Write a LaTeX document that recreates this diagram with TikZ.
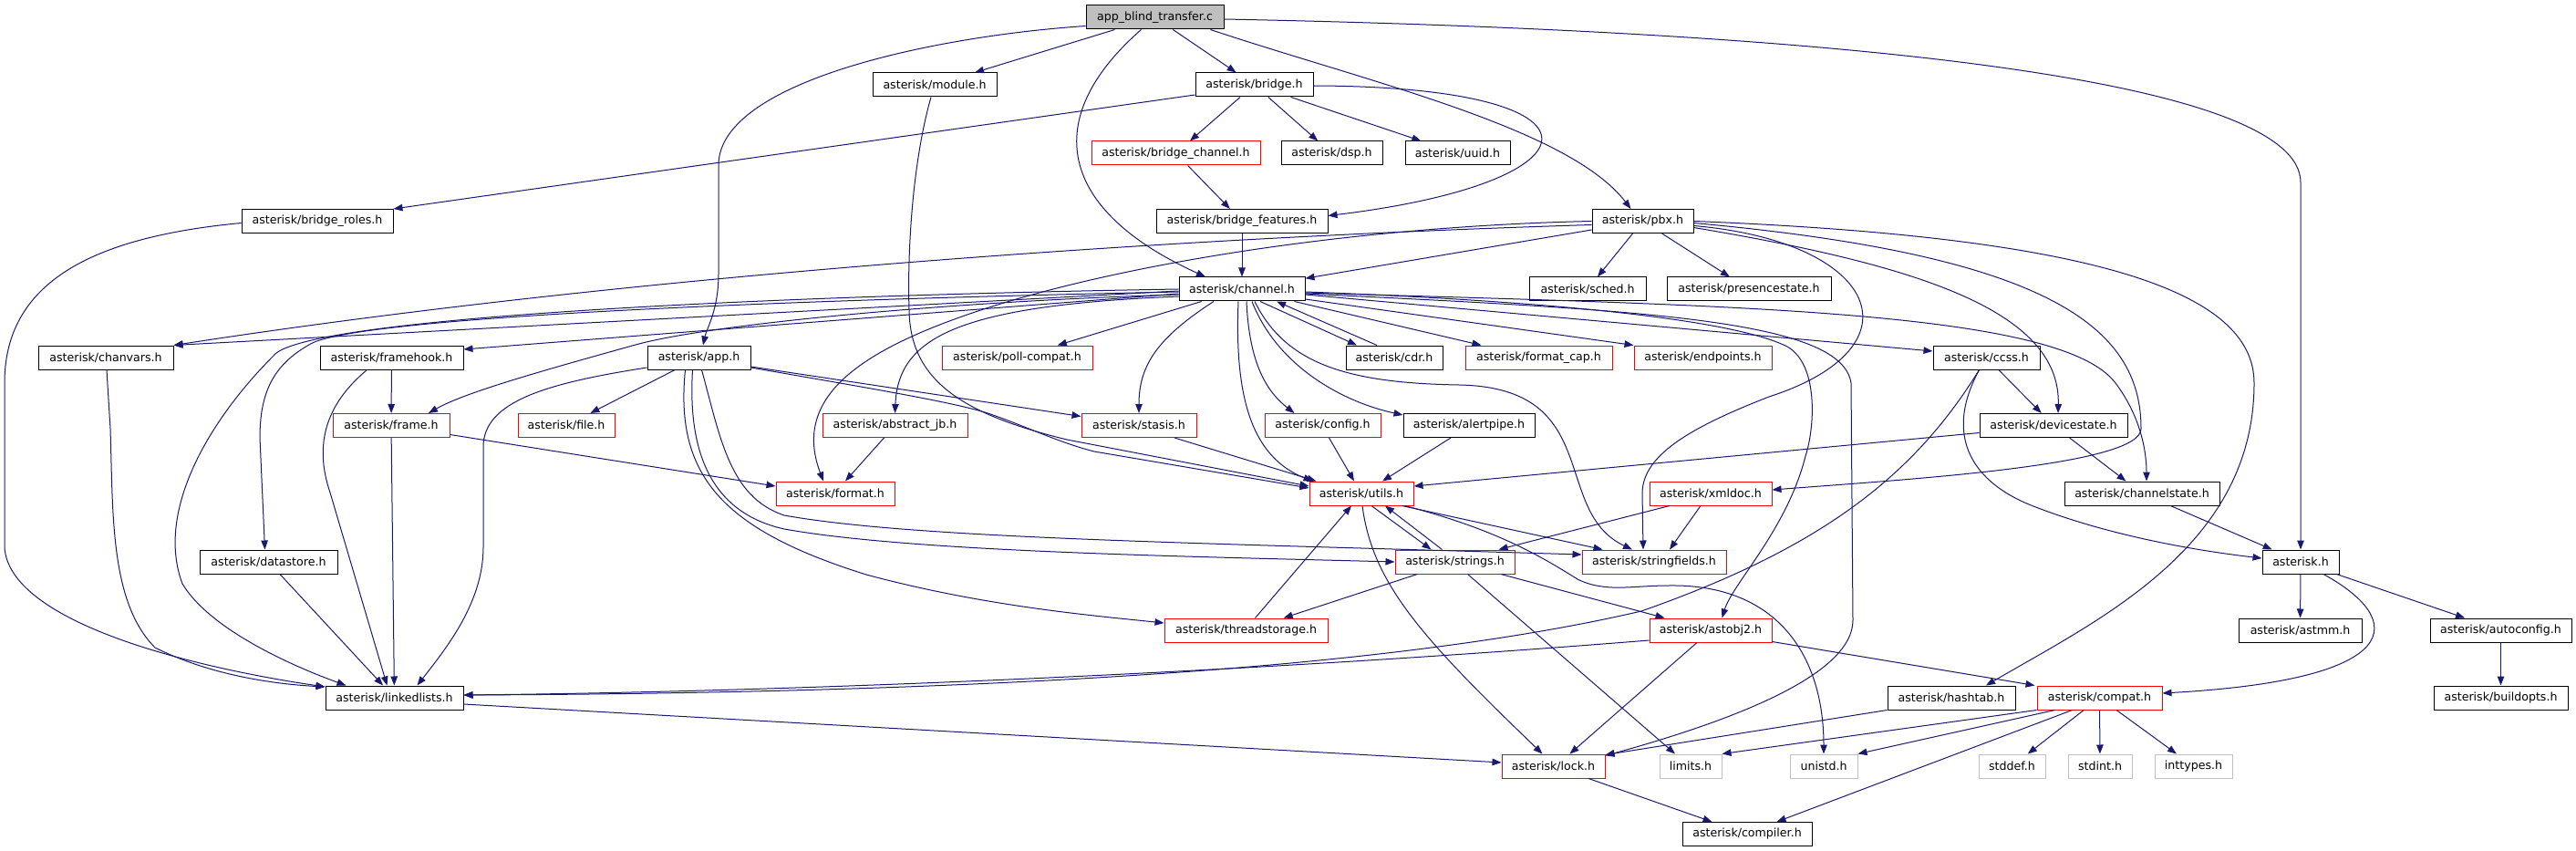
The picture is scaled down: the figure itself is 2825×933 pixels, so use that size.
\documentclass[tikz,border=0pt]{standalone}
\usepackage{fontspec}
\setmainfont{DejaVu Sans}
\usetikzlibrary{arrows.meta,calc}
\definecolor{edgeblue}{HTML}{191970}
\definecolor{rootfill}{HTML}{BFBFBF}
\definecolor{sysline}{HTML}{BFBFBF}
\definecolor{redline}{HTML}{FF0000}
\tikzset{
  nd/.style={draw=black, line width=1pt, fill=white, inner sep=0pt, minimum height=26pt, font=\fontsize{12.6}{14}\selectfont, text=black},
  rnd/.style={nd, draw=redline},
  snd/.style={nd, draw=sysline},
  rootnd/.style={nd, fill=rootfill},
  dep/.style={draw=edgeblue, line width=1pt, -{Triangle[length=10pt,width=7.5pt]}},
}
\begin{document}
\begin{tikzpicture}[x=1pt,y=-1pt]
\useasboundingbox (0,0) rectangle (2825,933);
\fill[white] (0,0) rectangle (2825,933);
% ---------- nodes ----------
\node[rootnd, minimum width=151pt] (root) at (1266.5,19) {app\_blind\_transfer.c};
\node[nd, minimum width=136pt] (module) at (1025,93) {asterisk/module.h};
\node[nd, minimum width=129pt] (bridge) at (1375.5,93) {asterisk/bridge.h};
\node[rnd, minimum width=185pt] (bchan) at (1289.5,168) {asterisk/bridge\_channel.h};
\node[nd, minimum width=111pt] (dsp) at (1460.5,168) {asterisk/dsp.h};
\node[nd, minimum width=115pt] (uuid) at (1598.5,168) {asterisk/uuid.h};
\node[nd, minimum width=166pt] (broles) at (348,242.5) {asterisk/bridge\_roles.h};
\node[nd, minimum width=188pt] (bfeat) at (1362,242.5) {asterisk/bridge\_features.h};
\node[nd, minimum width=111pt] (pbx) at (1801.5,242.5) {asterisk/pbx.h};
\node[nd, minimum width=138pt] (channel) at (1362,317) {asterisk/channel.h};
\node[nd, minimum width=128pt] (sched) at (1741,317) {asterisk/sched.h};
\node[nd, minimum width=180pt] (presence) at (1918,317) {asterisk/presencestate.h};
\node[nd, minimum width=148pt] (chanvars) at (116,392) {asterisk/chanvars.h};
\node[nd, minimum width=157pt] (framehook) at (429.5,392) {asterisk/framehook.h};
\node[nd, minimum width=113pt] (app) at (766.5,392) {asterisk/app.h};
\node[rnd, minimum width=165pt] (poll) at (1115.5,392) {asterisk/poll-compat.h};
\node[nd, minimum width=106pt] (cdr) at (1529,392) {asterisk/cdr.h};
\node[rnd, minimum width=161pt] (fcap) at (1687.5,392) {asterisk/format\_cap.h};
\node[rnd, minimum width=151pt] (endpoints) at (1867.5,392) {asterisk/endpoints.h};
\node[nd, minimum width=117pt] (ccss) at (2178.5,392) {asterisk/ccss.h};
\node[rnd, minimum width=128pt] (frame) at (429,466.5) {asterisk/frame.h};
\node[rnd, minimum width=106pt] (file) at (621,466.5) {asterisk/file.h};
\node[rnd, minimum width=159pt] (ajb) at (981.5,466.5) {asterisk/abstract\_jb.h};
\node[rnd, minimum width=126pt] (stasis) at (1249,466.5) {asterisk/stasis.h};
\node[rnd, minimum width=127pt] (config) at (1450.5,466.5) {asterisk/config.h};
\node[nd, minimum width=144pt] (alertpipe) at (1611,466.5) {asterisk/alertpipe.h};
\node[nd, minimum width=162pt] (devstate) at (2252,466.5) {asterisk/devicestate.h};
\node[rnd, minimum width=130pt] (format) at (916,541) {asterisk/format.h};
\node[rnd, minimum width=114pt] (utils) at (1493,541) {asterisk/utils.h};
\node[rnd, minimum width=134pt] (xmldoc) at (1876,541) {asterisk/xmldoc.h};
\node[nd, minimum width=170pt] (chstate) at (2349,541) {asterisk/channelstate.h};
\node[nd, minimum width=151pt] (datastore) at (294.5,616) {asterisk/datastore.h};
\node[rnd, minimum width=131pt] (strings) at (1595.5,616) {asterisk/strings.h};
\node[rnd, minimum width=158pt] (sfields) at (1814,616) {asterisk/stringfields.h};
\node[nd, minimum width=84pt] (asterisk) at (2523,616) {asterisk.h};
\node[rnd, minimum width=179pt] (tstorage) at (1366.5,691) {asterisk/threadstorage.h};
\node[rnd, minimum width=134pt] (astobj) at (1876,691) {asterisk/astobj2.h};
\node[nd, minimum width=135pt] (astmm) at (2522.5,691) {asterisk/astmm.h};
\node[nd, minimum width=155pt] (autoconf) at (2742.5,691) {asterisk/autoconfig.h};
\node[nd, minimum width=151pt] (llists) at (432.5,765) {asterisk/linkedlists.h};
\node[nd, minimum width=140pt] (hashtab) at (2140,765) {asterisk/hashtab.h};
\node[rnd, minimum width=137pt] (compat) at (2302.5,765) {asterisk/compat.h};
\node[nd, minimum width=147pt] (buildopts) at (2742.5,765) {asterisk/buildopts.h};
\node[rnd, minimum width=113pt] (lock) at (1703.5,840) {asterisk/lock.h};
\node[snd, minimum width=68pt] (limits) at (1854,840) {limits.h};
\node[snd, minimum width=74pt] (unistd) at (2000,840) {unistd.h};
\node[snd, minimum width=73pt] (stddef) at (2206.5,840) {stddef.h};
\node[snd, minimum width=70pt] (stdint) at (2303,840) {stdint.h};
\node[snd, minimum width=85pt] (inttypes) at (2405.5,840) {inttypes.h};
\node[nd, minimum width=142pt] (compiler) at (1916,914.5) {asterisk/compiler.h};
% ---------- edges ----------
% root
\draw[dep] (root) -- (module);
\draw[dep] (root) -- (bridge);
\draw[dep] ($(root.south)+(-15,0)$) .. controls (1140,130) and (1160,230) .. ($(channel.north)+(-40,0)$);
\draw[dep] ($(root.south)+(61,0)$) .. controls (1500,90) and (1720,140) .. ($(pbx.north)+(-13,0)$);
\draw[dep] ($(root.south west)+(0,-4)$) .. controls (1020,40) and (790,90) .. (788,180) -- (788,300) .. controls (788,340) and (775,360) .. ($(app.north)+(4.5,0)$);
\draw[dep] ($(root.east)+(0,2)$) .. controls (2050,35) and (2523,90) .. (2523,200) -- (asterisk.north);
% module
\draw[dep] ($(module.south)+(-4,0)$) .. controls (1000,180) and (995,280) .. (997,340) .. controls (998,420) and (1060,455) .. (1170,482) -- ($(utils.west)+(0,-8)$);
% bridge
\draw[dep] ($(bridge.west)+(0,11)$) -- (broles.north east);
\draw[dep] (bridge) -- (bchan);
\draw[dep] (bridge) -- (dsp);
\draw[dep] (bridge) -- (uuid);
\draw[dep] ($(bridge.east)+(0,1)$) .. controls (1780,95) and (1760,200) .. ($(bfeat.east)+(0,-6)$);
\draw[dep] (bchan) -- (bfeat);
\draw[dep] (bfeat) -- (channel);
% pbx
\draw[dep] (pbx) -- (channel);
\draw[dep] (pbx) -- (sched);
\draw[dep] (pbx) -- (presence);
\draw[dep] ($(pbx.west)+(0,4)$) .. controls (1300,260) and (700,300) .. (chanvars.north east);
\draw[dep] (pbx.west) .. controls (1400,250) and (1050,320) .. (940,403) .. controls (890,440) and (885,480) .. ($(format.north)+(-13,0)$);
\draw[dep] ($(pbx.east)+(0,5)$) .. controls (2060,265) and (2110,380) .. (1940,435) .. controls (1850,470) and (1802,500) .. (1801,540) -- ($(sfields.north)+(-12,0)$);
\draw[dep] ($(pbx.east)+(0,7)$) .. controls (2100,290) and (2260,340) .. ($(devstate.north)+(5,0)$);
\draw[dep] ($(pbx.east)+(0,2)$) .. controls (2250,280) and (2348,360) .. (2348,470) .. controls (2348,510) and (2100,525) .. ($(xmldoc.east)+(0,-4)$);
\draw[dep] (pbx.east) .. controls (2300,260) and (2472,320) .. (2472,420) .. controls (2472,600) and (2300,680) .. ($(hashtab.north)+(38,0)$);
% channel
\draw[dep] ($(channel.west)+(0,2)$) -- (chanvars.north east);
\draw[dep] ($(channel.west)+(0,5)$) -- ($(framehook.east)+(0,-9)$);
\draw[dep] ($(channel.west)+(0,6)$) .. controls (1050,330) and (780,355) .. (697,378) .. controls (600,405) and (510,430) .. ($(frame.north)+(41,0)$);
\draw[dep] (channel.west) .. controls (800,325) and (330,350) .. (300,390) .. controls (230,460) and (170,560) .. (200,640) .. controls (230,690) and (320,730) .. ($(llists.north west)+(23,0)$);
\draw[dep] ($(channel.west)+(0,3)$) .. controls (800,330) and (380,350) .. (339,378) .. controls (300,400) and (285,430) .. (285,480) -- ($(datastore.north)+(-4,0)$);
\draw[dep] ($(channel.west)+(0,8)$) .. controls (1050,335) and (985,370) .. (ajb.north);
\draw[dep] (channel) -- (poll);
\draw[dep] ($(channel.south)+(-31,0)$) .. controls (1270,370) and (1249,400) .. (stasis.north);
\draw[dep] ($(channel.south)+(-4,0)$) .. controls (1354,430) and (1370,500) .. ($(utils.north west)+(4,0)$);
\draw[dep] ($(channel.south)+(5,0)$) .. controls (1370,400) and (1390,430) .. ($(config.north west)+(33,0)$);
\draw[dep] ($(channel.south)+(11,0)$) .. controls (1400,400) and (1470,440) .. ($(alertpipe.north west)+(0,2)$);
\draw[dep] ($(channel.south)+(14,0)$) .. controls (1410,400) and (1480,420) .. (1600,422) .. controls (1760,425) and (1700,560) .. ($(sfields.north)+(-24,0)$);
\draw[dep] ($(channel.south)+(20,0)$) -- ($(cdr.north)+(-41,0)$);
\draw[dep] ($(cdr.north)+(-19,0)$) -- ($(channel.south)+(38,0)$);
\draw[dep] ($(channel.south east)+(-12,0)$) -- ($(fcap.north west)+(18,0)$);
\draw[dep] ($(channel.east)+(0,11)$) -- (endpoints.north west);
\draw[dep] ($(channel.east)+(0,6)$) -- ($(ccss.west)+(0,-7)$);
\draw[dep] ($(channel.east)+(0,3)$) .. controls (1700,330) and (1900,350) .. (1960,380) .. controls (1995,400) and (1990,470) .. (1980,500) .. controls (1960,580) and (1900,640) .. ($(astobj.north east)+(-55,0)$);
\draw[dep] ($(channel.east)+(0,5)$) .. controls (1800,340) and (2020,350) .. (2030,420) -- (2032,680) .. controls (2032,740) and (1900,790) .. ($(lock.north east)+(0,2)$);
\draw[dep] ($(channel.east)+(0,4)$) .. controls (1900,335) and (2260,340) .. (2320,420) .. controls (2350,460) and (2354,500) .. ($(chstate.north)+(5,0)$);
% ccss / devicestate / channelstate
\draw[dep] ($(ccss.south)+(-8,0)$) .. controls (2100,520) and (2000,600) .. (1800,670) .. controls (1500,740) and (1000,760) .. ($(llists.east)+(0,-3)$);
\draw[dep] (ccss) -- (devstate);
\draw[dep] ($(ccss.south)+(-8,0)$) .. controls (2130,480) and (2165,530) .. (2230,555) .. controls (2320,590) and (2420,605) .. ($(asterisk.west)+(0,-4)$);
\draw[dep] ($(devstate.west)+(0,8)$) -- ($(utils.east)+(0,-8)$);
\draw[dep] (devstate) -- (chstate);
\draw[dep] (chstate) -- (asterisk);
% asterisk.h
\draw[dep] (asterisk) -- (astmm);
\draw[dep] (asterisk) -- (autoconf);
\draw[dep] ($(asterisk.south)+(25,0)$) .. controls (2640,680) and (2640,745) .. ($(compat.east)+(0,-5)$);
\draw[dep] (autoconf) -- (buildopts);
% compat
\draw[dep] (compat.south west) -- (limits.north east);
\draw[dep] ($(compat.south west)+(20,0)$) -- (unistd.north east);
\draw[dep] ($(compat.south)+(-30,0)$) -- ($(compiler.north east)+(-39,0)$);
\draw[dep] (compat) -- (stddef);
\draw[dep] (compat) -- (stdint);
\draw[dep] (compat) -- (inttypes);
\draw[dep] (hashtab.south west) -- ($(lock.north east)+(0,1)$);
% astobj2
\draw[dep] ($(astobj.south east)+(0,-1)$) -- ($(compat.north west)+(-2,0)$);
\draw[dep] ($(astobj.south)+(-15,0)$) -- ($(lock.north)+(18,0)$);
\draw[dep] ($(astobj.west)+(0,11)$) .. controls (1400,735) and (900,758) .. ($(llists.east)+(0,-3)$);
% strings / utils
\draw[dep] (strings) -- (tstorage);
\draw[dep] (strings) -- (astobj);
\draw[dep] ($(strings.south)+(14,0)$) -- ($(limits.north)+(-17,0)$);
\draw[dep] ($(strings.north)+(-14,0)$) -- ($(utils.south)+(26,0)$);
\draw[dep] ($(utils.south)+(11,0)$) -- ($(strings.north)+(-26,0)$);
\draw[dep] ($(utils.south east)+(-13,0)$) -- ($(sfields.north west)+(23,0)$);
\draw[dep] ($(utils.south)+(1,0)$) .. controls (1505,640) and (1560,700) .. ($(lock.north)+(-12,0)$);
\draw[dep] ($(utils.south east)+(-10,0)$) .. controls (1640,580) and (1690,610) .. (1730,635) .. controls (1760,650) and (1790,642) .. (1830,642) .. controls (1950,640) and (2000,720) .. (unistd.north);
\draw[dep] ($(tstorage.north)+(10,0)$) -- ($(utils.south)+(-11,0)$);
\draw[dep] ($(xmldoc.south)+(-45,0)$) -- ($(strings.north east)+(-18,0)$);
\draw[dep] ($(xmldoc.south)+(-11,0)$) -- ($(sfields.north)+(17,0)$);
\draw[dep] ($(stasis.south)+(39,0)$) -- ($(utils.north west)+(8,0)$);
\draw[dep] ($(config.south)+(7,0)$) -- ($(utils.north)+(-8,0)$);
\draw[dep] ($(alertpipe.south)+(-20,0)$) -- ($(utils.north)+(23,0)$);
% format / frame
\draw[dep] ($(ajb.south)+(-12,0)$) -- ($(format.north)+(11,0)$);
\draw[dep] ($(frame.east)+(0,10)$) -- ($(format.west)+(0,-8)$);
\draw[dep] (frame) -- (llists);
\draw[dep] (framehook) -- (frame);
\draw[dep] ($(framehook.south)+(-27,0)$) .. controls (355,445) and (345,490) .. (362,540) -- ($(llists.north)+(-8,0)$);
% left column
\draw[dep] ($(chanvars.south)+(1,0)$) -- (121,470) .. controls (124,560) and (120,660) .. (170,710) .. controls (230,740) and (300,750) .. ($(llists.west)+(0,-12)$);
\draw[dep] ($(broles.west)+(0,2)$) .. controls (100,260) and (5,310) .. (5,420) -- (5,600) .. controls (10,680) and (200,730) .. ($(llists.west)+(0,-12)$);
\draw[dep] (datastore) -- (llists);
% app
\draw[dep] ($(app.west)+(0,11)$) .. controls (600,420) and (530,440) .. (530,490) -- (530,600) .. controls (530,660) and (490,710) .. ($(llists.north)+(25,0)$);
\draw[dep] (app) -- (file);
\draw[dep] ($(app.east)+(0,10)$) -- ($(stasis.west)+(0,-10)$);
\draw[dep] ($(app.east)+(0,11)$) .. controls (950,425) and (1040,440) .. (1080,452) .. controls (1120,465) and (1160,485) .. (1200,495) -- ($(utils.west)+(0,-6)$);
\draw[dep] ($(app.south)+(-7,0)$) .. controls (755,480) and (770,560) .. (860,580) .. controls (1000,605) and (1300,610) .. (strings.west);
\draw[dep] ($(app.south)+(3,0)$) .. controls (790,480) and (800,545) .. (860,565) .. controls (1000,590) and (1300,595) .. ($(sfields.west)+(0,-8)$);
\draw[dep] ($(app.south)+(-15,0)$) .. controls (740,520) and (790,580) .. (950,630) .. controls (1080,665) and (1200,675) .. ($(tstorage.west)+(0,-8)$);
% lock
\draw[dep] ($(llists.east)+(0,7)$) -- ($(lock.west)+(0,-4)$);
\draw[dep] (lock) -- (compiler);
\end{tikzpicture}
\end{document}
